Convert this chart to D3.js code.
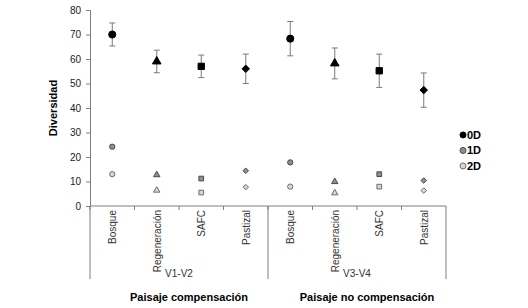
<!DOCTYPE html>
<html>
<head>
<meta charset="utf-8">
<script src="https://cdn.jsdelivr.net/npm/d3@7"></script>
<style>
  body { margin: 0; background: #fff; }
  svg { font-family: "Liberation Sans", Arial, sans-serif; }
</style>
</head>
<body>
<div id="container"></div>
<script>
const width = 528, height = 308
const margin = {top: 10, right: 82, bottom: 102, left: 90}
const innerW = width - margin.left - margin.right
const innerH = height - margin.top - margin.bottom

// DATA
const groups = ['V1-V2', 'V3-V4']
const titles = ['Paisaje compensación', 'Paisaje no compensación']
const habitats = ['Bosque', 'Regeneración', 'SAFC', 'Pastizal']
const orders = ['0D', '1D', '2D']
const yTicks = [0, 10, 20, 30, 40, 50, 60, 70, 80]

// values per group, in habitat order
const d0 = [[70, 59, 57, 56], [68.3, 58.2, 55.2, 47.3]]
const d0err = [[4.7, 4.6, 4.6, 6], [7, 6.3, 6.8, 7]]
const d1 = [[24.2, 12.7, 11.2, 14.4], [17.8, 9.9, 13, 10.4]]
const d1err = [[1, 0.4, 0.4, 0.4], [0.8, 0.3, 0.3, 0.3]]
const d2 = [[13, 6.4, 5.5, 7.7], [7.9, 5.3, 7.9, 6.3]]
const d2err = [[1, 0.3, 0.3, 0.3], [0.3, 0.3, 0.3, 0.3]]

const values = {'0D': d0, '1D': d1, '2D': d2}
const errors = {'0D': d0err, '1D': d1err, '2D': d2err}
const fills = {'0D': '#000000', '1D': '#8f8f8f', '2D': '#d6d6d6'}
const strokes = {'0D': '#000000', '1D': '#4a4a4a', '2D': '#6e6e6e'}
const sizes = {'0D': 40, '1D': 22, '2D': 22}
const diamond = d3.symbolDiamond2 || d3.symbolDiamond
const shapes = [d3.symbolCircle, d3.symbolTriangle, d3.symbolSquare, diamond]
const shapeScale = [1, 0.8, 1, 0.9]

const rows = []
groups.forEach((g, gi) => {
  habitats.forEach((h, hi) => {
    orders.forEach(o => {
      rows.push({key: g + '|' + h, group: g, habitat: h, hi: hi, order: o,
        value: values[o][gi][hi], err: errors[o][gi][hi]})
    })
  })
})

const svg = d3.select('#container').append('svg')
  .attr('width', width).attr('height', height)
  .append('g')
  .attr('transform', 'translate(' + margin.left + ',' + margin.top + ')')

// SCALES
const keys = []
groups.forEach(g => habitats.forEach(h => keys.push(g + '|' + h)))
const x = d3.scaleBand().domain(keys).range([0, innerW])
const gx = d3.scaleBand().domain(groups).range([0, innerW])
const y = d3.scaleLinear().domain([0, 80]).range([innerH, 0])

const axisColor = '#7f7f7f'

// y axis
const yAxis = svg.append('g')
  .call(d3.axisLeft(y).tickValues(yTicks).tickSize(4).tickPadding(5))
yAxis.select('.domain').attr('stroke', axisColor)
yAxis.selectAll('.tick line').attr('stroke', axisColor)
yAxis.selectAll('.tick text').style('font-size', '10px').attr('fill', '#222')

// x axis
svg.append('line')
  .attr('x1', 0).attr('x2', innerW).attr('y1', innerH).attr('y2', innerH)
  .attr('stroke', axisColor)
svg.selectAll('.xtick')
  .data(keys)
  .enter().append('line')
  .attr('x1', d => x(d)).attr('x2', d => x(d))
  .attr('y1', innerH).attr('y2', innerH + 4)
  .attr('stroke', axisColor)
// group dividers
const dividers = [0, gx(groups[1]), innerW]
svg.selectAll('.divider')
  .data(dividers)
  .enter().append('line')
  .attr('x1', d => d).attr('x2', d => d)
  .attr('y1', innerH).attr('y2', innerH + 73)
  .attr('stroke', axisColor)

// category labels
svg.selectAll('.cat')
  .data(keys)
  .enter().append('text')
  .attr('transform', d => 'translate(' + (x(d) + x.bandwidth() / 2 + 4) + ',' + (innerH + 4) + ') rotate(-90)')
  .attr('text-anchor', 'end')
  .style('font-size', '10px')
  .attr('fill', '#333')
  .text(d => d.split('|')[1])

// group labels
svg.selectAll('.grp')
  .data(groups)
  .enter().append('text')
  .attr('x', d => gx(d) + gx.bandwidth() / 2)
  .attr('y', innerH + 71)
  .attr('text-anchor', 'middle')
  .style('font-size', '10px')
  .attr('fill', '#333')
  .text(d => d)

svg.selectAll('.title')
  .data(titles)
  .enter().append('text')
  .attr('x', (d, i) => gx(groups[i]) + gx.bandwidth() / 2 + 10)
  .attr('y', innerH + 95)
  .attr('text-anchor', 'middle')
  .style('font-size', '11px')
  .style('font-weight', 'bold')
  .text(d => d)

// y label
svg.append('text')
  .attr('transform', 'rotate(-90)')
  .attr('x', -y(40))
  .attr('y', -33)
  .attr('text-anchor', 'middle')
  .style('font-size', '11px')
  .style('font-weight', 'bold')
  .text('Diversidad')

// error bars
const eb = svg.selectAll('.err')
  .data(rows)
  .enter().append('g')
  .attr('stroke', '#7a7a7a')
  .attr('stroke-width', 1)
eb.append('line')
  .attr('x1', d => x(d.key) + x.bandwidth() / 2)
  .attr('x2', d => x(d.key) + x.bandwidth() / 2)
  .attr('y1', d => y(d.value - d.err))
  .attr('y2', d => y(d.value + d.err))
eb.filter(d => d.order === '0D').selectAll('.cap')
  .data(d => [d.value - d.err, d.value + d.err].map(v => ({v: v, key: d.key})))
  .enter().append('line')
  .attr('x1', d => x(d.key) + x.bandwidth() / 2 - 3)
  .attr('x2', d => x(d.key) + x.bandwidth() / 2 + 3)
  .attr('y1', d => y(d.v)).attr('y2', d => y(d.v))

// points
svg.selectAll('.pt')
  .data(rows)
  .enter().append('path')
  .attr('transform', d => 'translate(' + (x(d.key) + x.bandwidth() / 2) + ',' + y(d.value) + ')')
  .attr('d', d => d3.symbol().type(shapes[d.hi]).size(sizes[d.order] * shapeScale[d.hi])())
  .attr('fill', d => fills[d.order])
  .attr('stroke', d => strokes[d.order])
  .attr('stroke-width', 1)

// legend
const legend = svg.append('g')
  .attr('transform', 'translate(' + (innerW + 17) + ',' + y(29) + ')')
const li = legend.selectAll('g')
  .data(orders)
  .enter().append('g')
  .attr('transform', (d, i) => 'translate(0,' + i * 15.5 + ')')
li.append('circle')
  .attr('r', 3)
  .attr('fill', d => fills[d])
  .attr('stroke', d => strokes[d])
li.append('text')
  .attr('x', 4)
  .attr('dy', '0.35em')
  .style('font-size', '11px')
  .style('font-weight', 'bold')
  .text(d => d)
</script>
</body>
</html>
